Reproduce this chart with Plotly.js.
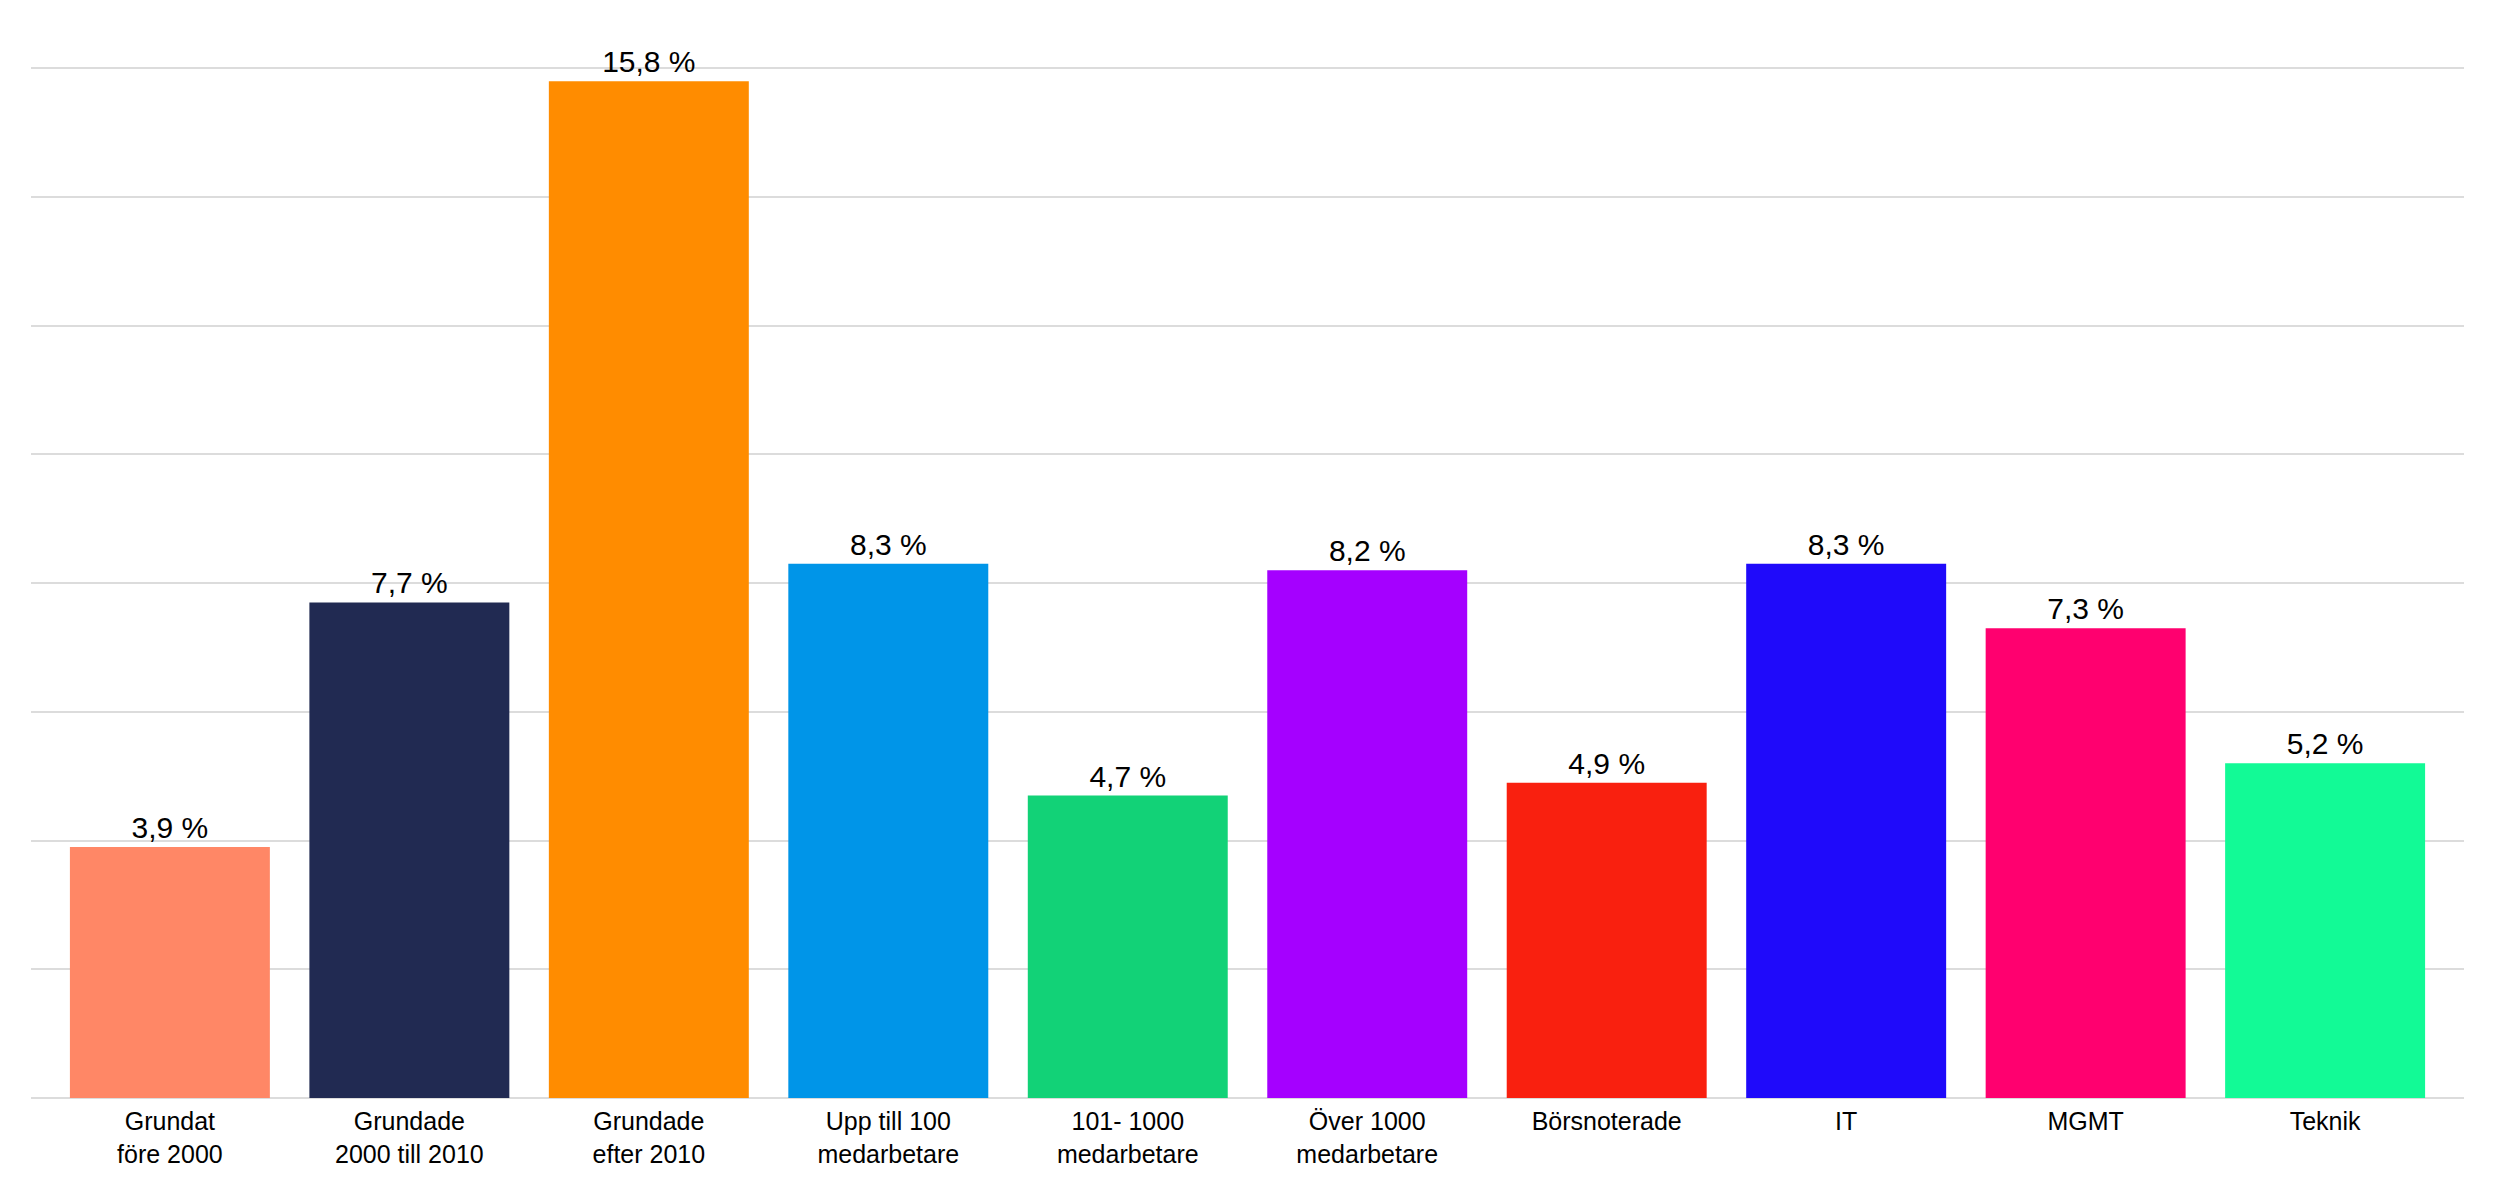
<!DOCTYPE html>
<html>
<head>
<meta charset="utf-8">
<script src="https://cdn.plot.ly/plotly-3.0.1.min.js"></script>
<style>
  html, body { margin: 0; padding: 0; background: #fff; }
  #chart { width: 2496px; height: 1188px; }
</style>
</head>
<body>
<div id="chart"></div>
<script>
const categories = [
  'Grundat<br>före 2000',
  'Grundade<br>2000 till 2010',
  'Grundade<br>efter 2010',
  'Upp till 100<br>medarbetare',
  '101- 1000<br>medarbetare',
  'Över 1000<br>medarbetare',
  'Börsnoterade',
  'IT',
  'MGMT',
  'Teknik',
];
const values = [3.9, 7.7, 15.8, 8.3, 4.7, 8.2, 4.9, 8.3, 7.3, 5.2];
const barColors = [
  '#FF8766', '#212A52', '#FF8C00', '#0095E8', '#12D277',
  '#A500FF', '#F9200F', '#1F0AFA', '#FF006F', '#12FA96',
];

const fontFamily = '"Liberation Sans", Arial, Helvetica, sans-serif';

const trace = {
  type: 'bar',
  x: categories,
  y: values,
  text: values.map((v) => v.toFixed(1).replace('.', ',') + ' %'),
  textposition: 'outside',
  cliponaxis: false,
  textfont: { family: fontFamily, size: 30, color: '#000' },
  marker: { color: barColors, line: { width: 0 } },
  hoverinfo: 'none',
};

const layout = {
  width: 2496,
  height: 1188,
  margin: { l: 31, r: 32, t: 67, b: 90, pad: 0 },
  paper_bgcolor: '#fff',
  plot_bgcolor: '#fff',
  bargap: 0.165,
  showlegend: false,
  font: { family: fontFamily, color: '#000' },
  xaxis: {
    type: 'category',
    range: [-0.58, 9.58],
    showgrid: false,
    zeroline: false,
    showline: false,
    ticks: '',
    ticklabelstandoff: 6,
    tickfont: { family: fontFamily, size: 25, color: '#000' },
  },
  yaxis: {
    range: [0, 16.02],
    dtick: 2,
    showticklabels: false,
    showgrid: true,
    gridcolor: '#dcdcdc',
    gridwidth: 2,
    zeroline: true,
    zerolinecolor: '#dcdcdc',
    zerolinewidth: 2,
    showline: false,
  },
};

Plotly.newPlot('chart', [trace], layout, { displayModeBar: false, staticPlot: true });
</script>
</body>
</html>
